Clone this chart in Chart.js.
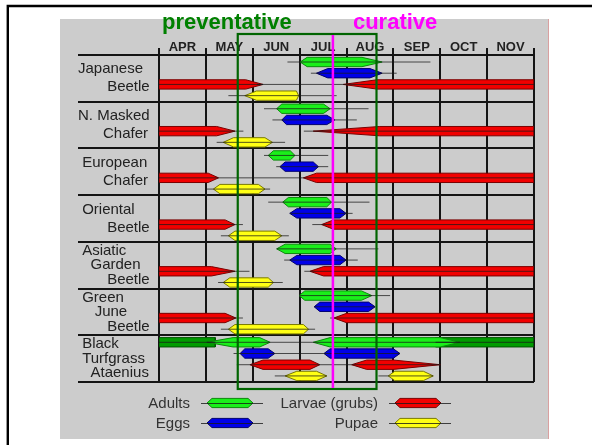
<!DOCTYPE html>
<html>
<head>
<meta charset="utf-8">
<script src="https://cdn.jsdelivr.net/npm/chart.js@4.4.1/dist/chart.umd.min.js"></script>
<style>
  html, body { margin: 0; padding: 0; background: #fff; }
  #wrap { position: relative; width: 592px; height: 445px; }
</style>
</head>
<body>
<div id="wrap"><canvas id="lifeChart"></canvas></div>
<script>
// Months (x axis, one unit = one month starting 1 April)
const months = ['APR', 'MAY', 'JUN', 'JUL', 'AUG', 'SEP', 'OCT', 'NOV'];

// Species (rows, top to bottom)
const species = [
    ['Japanese', '       Beetle'],
    ['N. Masked', '      Chafer'],
    [' European', '      Chafer'],
    [' Oriental', '       Beetle'],
    [' Asiatic', '   Garden', '       Beetle'],
    [' Green', '    June', '       Beetle'],
    [' Black', ' Turfgrass', '   Ataenius']
];

// [row, start, full start, full end, end, range from, range to]  (months after 1 Apr)
const adults = [
    [0, 3.01, 3.16, 4.33, 4.76, 2.74, 5.79],
    [1, 2.51, 2.62, 3.51, 3.65, 2.24, 4.47],
    [2, 2.33, 2.44, 2.80, 2.90, 2.24, 3.61],
    [3, 2.64, 2.76, 3.58, 3.68, 2.33, 4.49],
    [4, 2.51, 2.69, 3.65, 3.78, 2.51, 4.68],
    [5, 2.99, 3.11, 4.32, 4.54, 2.99, 4.93],
    [6, 1.02, 1.58, 2.15, 2.37, 1.02, 3.29],
    [6, 3.29, 3.65, 6.00, 6.42, 3.29, 6.42]
];
const adultsWinter = [
    [6, 0, 0, 1.2, 1.2, 0, 1.2],
    [6, 5.9, 5.9, 8, 8, 5.9, 8]
];
const eggs = [
    [0, 3.36, 3.60, 4.50, 4.76, 3.24, 5.07],
    [1, 2.62, 2.72, 3.58, 3.75, 2.42, 4.22],
    [2, 2.58, 2.69, 3.29, 3.40, 2.50, 3.61],
    [3, 2.79, 2.94, 3.86, 3.99, 2.79, 4.13],
    [4, 2.79, 2.94, 3.86, 3.99, 2.67, 4.24],
    [5, 3.31, 3.43, 4.47, 4.61, 3.31, 4.61],
    [6, 1.73, 1.83, 2.33, 2.47, 1.59, 3.52],
    [6, 3.52, 3.65, 5.00, 5.14, 3.52, 5.14]
];
const larvae = [
    [0, 0, 0, 1.85, 2.22, 0, 2.22],
    [0, 3.93, 4.65, 8, 8, 2.09, 8],
    [1, 0, 0, 1.23, 1.62, 0, 1.80],
    [1, 3.29, 4.71, 8, 8, 3.09, 8],
    [2, 0, 0, 1.05, 1.27, 0, 1.27],
    [2, 3.08, 3.36, 8, 8, 1.27, 8],
    [3, 0, 0, 1.41, 1.62, 0, 1.79],
    [3, 3.47, 3.72, 8, 8, 3.27, 8],
    [4, 0, 0, 1.12, 1.62, 0, 1.93],
    [4, 3.22, 3.51, 8, 8, 3.10, 8],
    [5, 0, 0, 1.41, 1.64, 0, 1.79],
    [5, 3.73, 4.00, 8, 8, 3.65, 8],
    [6, 1.94, 2.22, 3.22, 3.43, 1.66, 4.11],
    [6, 4.11, 4.43, 5.00, 6.00, 4.11, 6.00]
];
const pupae = [
    [0, 1.83, 2.08, 2.93, 2.98, 1.48, 3.79],
    [1, 1.37, 1.59, 2.26, 2.42, 1.23, 2.69],
    [2, 1.16, 1.30, 2.12, 2.26, 1.02, 2.37],
    [3, 1.48, 1.62, 2.47, 2.62, 1.32, 2.77],
    [4, 1.37, 1.51, 2.33, 2.44, 1.26, 2.64],
    [5, 1.48, 1.62, 3.08, 3.19, 1.32, 3.33],
    [6, 2.69, 2.94, 3.36, 3.58, 2.47, 3.58],
    [6, 4.89, 5.03, 5.64, 5.85, 4.68, 5.85]
];

// treatment windows
const preventative = [1.68, 4.64];
const curativeStart = 3.71;

const FONT = "'Liberation Sans', Arial, sans-serif";
const HALF = 0.1; // half thickness of a bar, in rows

const stages = {
    adults: { label: 'Adults', lane: 0.15, fill: '#1aef1a', edge: '#0b8a0b' },
    eggs: { label: 'Eggs', lane: 0.39, fill: '#0000e8', edge: '#00006e' },
    larvae: { label: 'Larvae (grubs)', lane: 0.63, fill: '#f20000', edge: '#7a0000' },
    pupae: { label: 'Pupae', lane: 0.87, fill: '#ffff14', edge: '#7a7a00' },
    winter: { label: '', lane: 0.15, fill: '#009c00', edge: '#005500' }
};

// turn one list into polygon + range line datasets
function stageDatasets(list, st, order) {
    const out = [];
    list.forEach(([row, s, fs, fe, e, ws, we]) => {
        const c = row + st.lane;
        out.push({
            data: [
                { x: s, y: c }, { x: fs, y: c - HALF }, { x: fe, y: c - HALF },
                { x: e, y: c }, { x: fe, y: c + HALF }, { x: fs, y: c + HALF }, { x: s, y: c }
            ],
            backgroundColor: st.fill,
            borderColor: st.edge,
            borderWidth: 1,
            borderJoinStyle: 'round',
            fill: 'shape',
            pointRadius: 0,
            tension: 0,
            order: order
        });
        out.push({
            data: [{ x: ws, y: c }, { x: we, y: c }],
            borderColor: 'rgba(25,25,25,0.75)',
            borderWidth: 1,
            fill: false,
            pointRadius: 0,
            order: 0
        });
    });
    return out;
}

const datasets = [].concat(
    stageDatasets(adultsWinter, stages.winter, 2),
    stageDatasets(adults, stages.adults, 1),
    stageDatasets(eggs, stages.eggs, 1),
    stageDatasets(larvae, stages.larvae, 1),
    stageDatasets(pupae, stages.pupae, 1)
);

// bar shape in pixels (legend)
function drawPill(ctx, x0, x1, y, st) {
    const t = 5, h = 4.6;
    ctx.beginPath();
    ctx.moveTo(x0, y);
    ctx.lineTo(x0 + t, y - h);
    ctx.lineTo(x1 - t, y - h);
    ctx.lineTo(x1, y);
    ctx.lineTo(x1 - t, y + h);
    ctx.lineTo(x0 + t, y + h);
    ctx.closePath();
    ctx.fillStyle = st.fill;
    ctx.fill();
    ctx.strokeStyle = st.edge;
    ctx.lineWidth = 1;
    ctx.stroke();
}

const decorPlugin = {
    id: 'decor',
    beforeDraw(chart) {
        const ctx = chart.ctx;
        ctx.save();
        ctx.fillStyle = '#ffffff';
        ctx.fillRect(0, 0, chart.width, chart.height);
        ctx.fillStyle = '#cccccc';
        ctx.fillRect(60, 19, 489, 420);
        ctx.strokeStyle = '#d9a0a0';
        ctx.lineWidth = 1;
        ctx.beginPath();
        ctx.moveTo(548.5, 19);
        ctx.lineTo(548.5, 439);
        ctx.stroke();
        ctx.strokeStyle = '#000000';
        ctx.lineWidth = 2.4;
        ctx.beginPath();
        ctx.moveTo(7.8, chart.height);
        ctx.lineTo(7.8, 6);
        ctx.lineTo(chart.width, 6);
        ctx.stroke();
        ctx.restore();
    },
    afterDatasetsDraw(chart) {
        const ctx = chart.ctx;
        const x = chart.scales.x;
        const area = chart.chartArea;
        const top = area.top - 21, bottom = area.bottom + 7;
        const xl = x.getPixelForValue(preventative[0]);
        const xr = x.getPixelForValue(preventative[1]);
        const xc = x.getPixelForValue(curativeStart);
        ctx.save();
        ctx.strokeStyle = '#006400';
        ctx.lineWidth = 2.2;
        ctx.strokeRect(xl, top, xr - xl, bottom - top);
        ctx.strokeStyle = '#ff00ff';
        ctx.lineWidth = 2.5;
        ctx.beginPath();
        ctx.moveTo(xc, top + 1);
        ctx.lineTo(xc, bottom - 1);
        ctx.stroke();
        ctx.restore();
    },
    afterDraw(chart) {
        const ctx = chart.ctx;
        const x = chart.scales.x;
        const area = chart.chartArea;
        ctx.save();
        // titles
        ctx.font = 'bold 22px ' + FONT;
        ctx.textBaseline = 'alphabetic';
        ctx.textAlign = 'left';
        ctx.fillStyle = '#008000';
        ctx.fillText('preventative', x.getPixelForValue(0) + 3, 29);
        ctx.fillStyle = '#ff00ff';
        ctx.fillText('curative', x.getPixelForValue(curativeStart) + 20, 29);
        // legend
        const items = [
            [stages.adults, 190, area.bottom + 21],
            [stages.eggs, 190, area.bottom + 41],
            [stages.larvae, 378, area.bottom + 21],
            [stages.pupae, 378, area.bottom + 41]
        ];
        ctx.font = '15px ' + FONT;
        ctx.textAlign = 'right';
        ctx.textBaseline = 'middle';
        items.forEach(([st, tx, ty]) => {
            ctx.fillStyle = '#333333';
            ctx.fillText(st.label, tx, ty + 1);
            drawPill(ctx, tx + 17, tx + 63, ty, st);
            ctx.strokeStyle = 'rgba(25,25,25,0.8)';
            ctx.lineWidth = 1;
            ctx.beginPath();
            ctx.moveTo(tx + 11, ty + 0.5);
            ctx.lineTo(tx + 73, ty + 0.5);
            ctx.stroke();
        });
        ctx.restore();
    }
};

const ctx = document.getElementById('lifeChart').getContext('2d');
const lifeChart = new Chart(ctx, {
    type: 'line',
    data: { datasets: datasets },
    options: {
        responsive: true,
        maintainAspectRatio: false,
        animation: false,
        events: [],
        layout: { padding: { left: 78, top: 0, right: 58, bottom: 63 } },
        plugins: {
            legend: { display: false },
            tooltip: { enabled: false }
        },
        scales: {
            x: {
                type: 'linear',
                position: 'top',
                min: 0,
                max: 8,
                afterBuildTicks: (axis) => { axis.ticks = months.map((m, i) => ({ value: i + 0.5 })); },
                afterFit: (axis) => { axis.height = 55; },
                border: { display: false },
                grid: { offset: true, color: '#141414', lineWidth: 2, tickLength: 7 },
                ticks: {
                    autoSkip: false,
                    padding: -7,
                    color: '#222222',
                    font: { family: FONT, size: 13, weight: 'bold' },
                    callback: (v, i) => months[i]
                }
            },
            y: {
                type: 'linear',
                reverse: true,
                min: 0,
                max: 7,
                afterBuildTicks: (axis) => { axis.ticks = species.map((s, i) => ({ value: i + 0.5 })); },
                afterFit: (axis) => { axis.width = 81; },
                border: { display: false },
                grid: { offset: true, color: '#141414', lineWidth: 2, tickLength: 81 },
                ticks: {
                    autoSkip: false,
                    crossAlign: 'far',
                    color: '#222222',
                    font: (c) => ({ family: FONT, size: 15, lineHeight: species[c.index] && species[c.index].length > 2 ? 0.97 : 1.2 }),
                    callback: (v, i) => species[i]
                }
            }
        }
    },
    plugins: [decorPlugin]
});
</script>
</body>
</html>
